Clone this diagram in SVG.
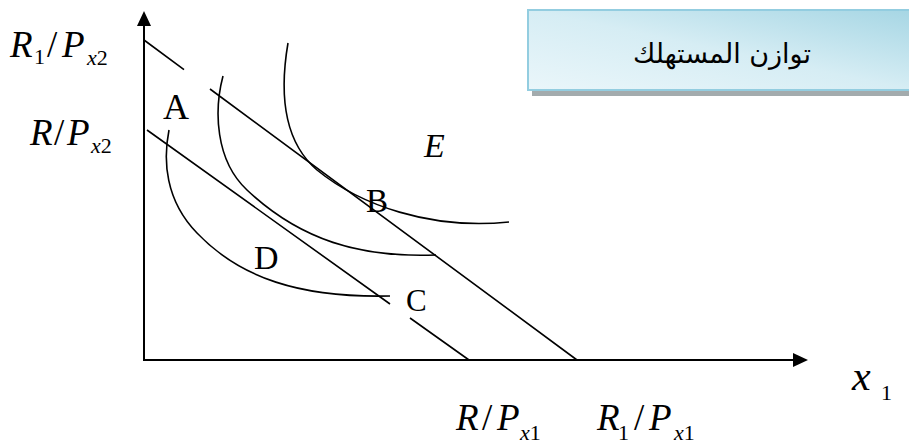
<svg xmlns="http://www.w3.org/2000/svg" width="909" height="445" viewBox="0 0 909 445">
<style>
.ax{stroke:#000;stroke-width:2;fill:none}
.ln{stroke:#000;stroke-width:1.6;fill:none}
.cv{stroke:#000;stroke-width:1.6;fill:none}
.t{font-family:"Liberation Serif","Times New Roman",serif;fill:#000}
.i{font-style:italic}
.lbl{font-family:"Liberation Serif","Times New Roman",serif;fill:#000}
</style>
<defs>
<linearGradient id="bg" x1="1" y1="0" x2="0" y2="1">
<stop offset="0" stop-color="#a6d6e4"/>
<stop offset="0.5" stop-color="#d6edf4"/>
<stop offset="1" stop-color="#eaf6fa"/>
</linearGradient>
</defs>
<rect width="909" height="445" fill="#fff"/>

<g id="title">
<rect x="532" y="90" width="377" height="6" fill="#a3abad"/>
<rect x="528" y="10" width="385" height="80" fill="url(#bg)" stroke="#93cde0" stroke-width="2"/>
<text x="722" y="63" text-anchor="middle" font-family="'DejaVu Sans','Noto Sans',sans-serif" font-size="27" fill="#000">توازن المستهلك</text>
</g>

<g id="axes">
<line class="ax" x1="144" y1="361" x2="144" y2="24"/>
<polygon points="144,11 137,26 151,26" fill="#000"/>
<line class="ax" x1="143" y1="360" x2="795" y2="360"/>
<polygon points="808,360 793,353 793,367" fill="#000"/>
</g>

<g id="connectors">
<path class="ln" d="M144,40 L184,69.6 M210,89 L577,360"/>
<path class="ln" d="M147,130 L390,304 M410,318 L469,360"/>
</g>

<g id="curves">
<path class="cv" d="M169,130 C163,160 165,200 197,233 C240,278 300,298 390,296"/>
<path class="cv" d="M223,76 C214,110 215,160 247,190 C300,240 360,258 436,255"/>
<path class="cv" d="M288,43 C280,90 282,140 317,170 C360,205 430,230 509,222"/>
</g>

<g id="points">
<text class="lbl" x="163" y="119" font-size="36">A</text>
<text class="lbl" x="366" y="212" font-size="33">B</text>
<text class="lbl" x="406" y="311" font-size="31">C</text>
<text class="lbl" x="254" y="269" font-size="34">D</text>
<text class="lbl" x="424" y="157" font-size="34" font-style="italic">E</text>
</g>

<g id="axis-labels">
<text class="t" font-size="37"><tspan class="i" x="10" y="57">R</tspan><tspan x="34" y="64" font-size="22">1</tspan><tspan x="47" y="57">/</tspan><tspan class="i" x="62" y="57">P</tspan><tspan class="i" x="87" y="65" font-size="22">x</tspan><tspan font-size="22">2</tspan></text>
<text class="t" font-size="37"><tspan class="i" x="30" y="145">R</tspan><tspan x="54" y="145">/</tspan><tspan class="i" x="67" y="145">P</tspan><tspan class="i" x="91" y="153" font-size="22">x</tspan><tspan font-size="22">2</tspan></text>
<text class="t" font-size="37"><tspan class="i" x="456" y="430">R</tspan><tspan x="482" y="430">/</tspan><tspan class="i" x="497" y="430">P</tspan><tspan class="i" x="520" y="440" font-size="22">x</tspan><tspan font-size="22">1</tspan></text>
<text class="t" font-size="37"><tspan class="i" x="597" y="430">R</tspan><tspan x="618" y="440" font-size="22">1</tspan><tspan x="634" y="430">/</tspan><tspan class="i" x="649" y="430">P</tspan><tspan class="i" x="674" y="440" font-size="22">x</tspan><tspan font-size="22">1</tspan></text>
<text class="t" font-size="42"><tspan class="i" x="852" y="390">x</tspan><tspan x="881" y="400" font-size="22">1</tspan></text>
</g>
</svg>
